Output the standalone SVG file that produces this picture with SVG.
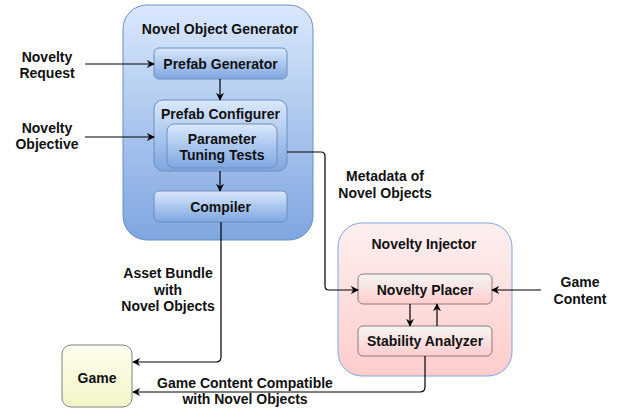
<svg xmlns="http://www.w3.org/2000/svg" width="619" height="413" viewBox="0 0 619 413">
<defs>
<linearGradient id="gBlue" x1="0" y1="0" x2="0" y2="1"><stop offset="0" stop-color="#dae8fc"/><stop offset="1" stop-color="#7ea6e0"/></linearGradient>
<linearGradient id="gPink" x1="0" y1="0" x2="0" y2="1"><stop offset="0" stop-color="#fdf0f0"/><stop offset="1" stop-color="#ffcccc"/></linearGradient>
<linearGradient id="gPinkIn" x1="0" y1="0" x2="0" y2="1"><stop offset="0" stop-color="#f5f5f5"/><stop offset="1" stop-color="#ffcccc"/></linearGradient>
<linearGradient id="gYellow" x1="0" y1="0" x2="0" y2="1"><stop offset="0" stop-color="#fdfdf0"/><stop offset="1" stop-color="#f5f5c6"/></linearGradient>
<marker id="arr" viewBox="0 0 10 10" refX="9" refY="5" markerWidth="8" markerHeight="8" markerUnits="userSpaceOnUse" orient="auto"><path d="M0,0 L10,5 L0,10 L3,5 Z" fill="#000"/></marker>
</defs>
<style>
text{font-family:"Liberation Sans",Arial,sans-serif;font-weight:bold;font-size:14px;fill:#111;text-anchor:middle;dominant-baseline:central}
.blue{fill:url(#gBlue);stroke:#6c8ebf;stroke-width:1}
.pinkIn{fill:url(#gPinkIn);stroke:#8c7a7a;stroke-width:1}
.conn{fill:none;stroke:#000;stroke-width:1.2;marker-end:url(#arr)}
</style>
<g id="novel-object-generator">
<rect x="123" y="5" width="190" height="235" rx="24" class="blue"/>
<text x="220" y="29">Novel Object Generator</text>
</g>
<g id="prefab-generator">
<rect x="154" y="48" width="133" height="31" rx="5" class="blue"/>
<text x="220.5" y="64">Prefab Generator</text>
</g>
<g id="prefab-configurer">
<rect x="154" y="100" width="133" height="71" rx="9" class="blue"/>
<text x="220.5" y="114">Prefab Configurer</text>
</g>
<g id="parameter-tuning-tests">
<rect x="167" y="124" width="110" height="44" rx="7" class="blue"/>
<text x="222" y="139">Parameter</text>
<text x="222" y="155">Tuning Tests</text>
</g>
<g id="compiler">
<rect x="154" y="191" width="133" height="31" rx="5" class="blue"/>
<text x="220.5" y="207">Compiler</text>
</g>
<g id="novelty-injector">
<rect x="338" y="223" width="174" height="153" rx="24" fill="url(#gPink)" stroke="#7ea6e0" stroke-width="1"/>
<text x="424" y="244">Novelty Injector</text>
</g>
<g id="novelty-placer">
<rect x="358" y="274" width="134" height="30" rx="5" class="pinkIn"/>
<text x="425" y="290">Novelty Placer</text>
</g>
<g id="stability-analyzer">
<rect x="358" y="326" width="134" height="30" rx="5" class="pinkIn"/>
<text x="425" y="341">Stability Analyzer</text>
</g>
<g id="game">
<rect x="62" y="345" width="70" height="62" rx="9" fill="url(#gYellow)" stroke="#808080" stroke-width="1"/>
<text x="97" y="378">Game</text>
</g>
<g id="labels">
<text x="47" y="57">Novelty</text>
<text x="47" y="73">Request</text>
<text x="47" y="128">Novelty</text>
<text x="47" y="144">Objective</text>
<text x="385" y="176">Metadata of</text>
<text x="385" y="193">Novel Objects</text>
<text x="168" y="273">Asset Bundle</text>
<text x="168" y="290">with</text>
<text x="168" y="306">Novel Objects</text>
<text x="580" y="282">Game</text>
<text x="580" y="299">Content</text>
<text x="245" y="383">Game Content Compatible</text>
<text x="245" y="399">with Novel Objects</text>
</g>
<g id="connectors">
<path class="conn" d="M85,64 H154"/>
<path class="conn" d="M85,137 H154"/>
<path class="conn" d="M220,79 V100"/>
<path class="conn" d="M220,171 V191"/>
<path class="conn" d="M287,152 H321 Q325,152 325,156 V286 Q325,290 329,290 H358"/>
<path class="conn" d="M221,222 V357 Q221,362 216,362 H133"/>
<path class="conn" d="M425,356 V387 Q425,392 420,392 H133"/>
<path class="conn" d="M541,290 H492"/>
<path class="conn" d="M410,304 V326"/>
<path class="conn" d="M437,326 V304"/>
</g>
</svg>
